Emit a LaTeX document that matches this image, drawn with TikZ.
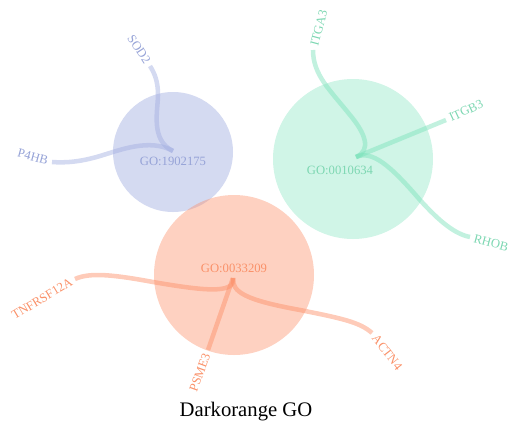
\documentclass[tikz,border=0pt]{standalone}
\usepackage{fontspec}
\setmainfont{Liberation Serif}
\definecolor{goblue}{RGB}{160,172,224}
\definecolor{gogreen}{RGB}{120,225,185}
\definecolor{goorange}{RGB}{252,140,100}
\definecolor{txblue}{RGB}{150,163,215}
\definecolor{txgreen}{RGB}{125,215,178}
\definecolor{txorange}{RGB}{250,145,105}
\tikzset{
  term/.style={font=\fontsize{9.5}{11}\selectfont},
  gene/.style={font=\fontsize{9.5}{11}\selectfont, inner sep=3pt},
  link/.style={line width=3.4pt, opacity=0.45}
}
\begin{document}
\begin{tikzpicture}[x=0.75pt, y=-0.75pt]
\useasboundingbox (0,0) rectangle (508,430);

% circles
\fill[goblue, opacity=0.45] (173,152) circle (60);
\fill[gogreen, opacity=0.35] (353,159) circle (80);
\fill[goorange, opacity=0.4] (234,275) circle (80);

% hubs
\coordinate (hb) at (173,151);
\coordinate (hg) at (356,157);
\coordinate (ho) at (233,278);

% line ends
\coordinate (sod) at (150,66);
\coordinate (p4h) at (52,162);
\coordinate (tga) at (313,50);
\coordinate (tgb) at (446,120);
\coordinate (rho) at (470,237);
\coordinate (tnf) at (75,279);
\coordinate (psm) at (208,350);
\coordinate (act) at (372,333);

% GO:1902175
\draw[link, goblue] (hb) .. controls (150,140) and (158,110) .. (158,95)
  .. controls (158,82) and (155,74) .. (sod);
\draw[link, goblue] (hb) .. controls (150,138) and (120,150) .. (100,156)
  .. controls (80,162) and (65,163) .. (p4h);
\node[term, txblue] (tb) at (173,161) {GO:1902175};
\node[gene, txblue, rotate=-57, anchor=east] (nsod) at (sod) {SOD2};
\node[gene, txblue, rotate=-15, anchor=east] (np4h) at (p4h) {P4HB};

% GO:0010634
\draw[link, gogreen] (hg) .. controls (372,150) and (365,133) .. (350,115)
  .. controls (330,90) and (313,75) .. (tga);
\draw[link, gogreen] (hg) -- (tgb);
\draw[link, gogreen] (hg) .. controls (372,150) and (390,165) .. (420,200)
  .. controls (440,222) and (455,234) .. (rho);
\node[term, txgreen] (tg) at (340,170) {GO:0010634};
\node[gene, txgreen, rotate=75, anchor=west] (ntga) at (tga) {ITGA3};
\node[gene, txgreen, rotate=25, anchor=west] (ntgb) at (tgb) {ITGB3};
\node[gene, txgreen, rotate=-15, anchor=west] (nrho) at (rho) {RHOB};

% GO:0033209
\draw[link, goorange] (ho) .. controls (236,295) and (200,290) .. (153,282)
  .. controls (115,275) and (90,272) .. (tnf);
\draw[link, goorange] (ho) -- (psm);
\draw[link, goorange] (ho) .. controls (232,292) and (245,300) .. (300,310)
  .. controls (340,318) and (360,322) .. (act);
\node[term, txorange] (to) at (234,268) {GO:0033209};
\node[gene, txorange, rotate=31, anchor=east] (ntnf) at (tnf) {TNFRSF12A};
\node[gene, txorange, rotate=70, anchor=east] (npsm) at (psm) {PSME3};
\node[gene, txorange, rotate=-52, anchor=west] (nact) at (act) {ACTN4};

% title
\node[font=\fontsize{15.5}{18}\selectfont] (title) at (246,412) {Darkorange GO};

\end{tikzpicture}
\end{document}
